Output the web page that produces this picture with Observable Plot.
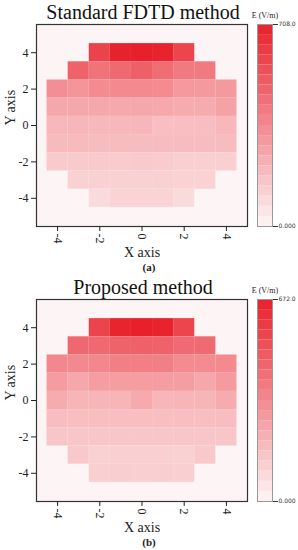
<!DOCTYPE html>
<html>
<head>
<meta charset="utf-8">
<script src="https://cdn.jsdelivr.net/npm/d3@7"></script>
<script src="https://cdn.jsdelivr.net/npm/@observablehq/plot@0.6"></script>
<style>
  html, body { margin: 0; padding: 0; background: #ffffff; }
  #root { position: relative; width: 298px; height: 550px; overflow: hidden; }
  .panel { position: absolute; left: 0; width: 298px; height: 275px; }
  .main { position: absolute; left: 0; top: 0; }
  .bar { position: absolute; left: 250px; top: 0; }
  .cap { position: absolute; left: 136px; width: 26px; text-align: center; line-height: 12px;
         font-family: "Liberation Serif", serif; font-size: 11px; font-weight: bold; color: #222; }
</style>
</head>
<body>
<div id="root"></div>
<script>
// ---- data ----
const titles = ["Standard FDTD method", "Proposed method"];
const captions = ["(a)", "(b)"];
const maxima = [708.0, 672.0];
const rowsY = [4, 3, 2, 1, 0, -1, -2, -3, -4];
const rowStartX = [-2, -3, -4, -4, -4, -4, -4, -3, -2];
const xTicks = [-4, -2, 0, 2, 4];
const yTicks = [-4, -2, 0, 2, 4];

const valuesA = [
  [592, 700, 708, 698, 585],
  [488, 432, 467, 496, 453, 411, 411],
  [340, 319, 354, 356, 355, 352, 305, 304, 306],
  [255, 256, 255, 254, 256, 253, 245, 246, 276],
  [205, 206, 204, 205, 206, 184, 183, 185, 205],
  [192, 193, 191, 190, 190, 189, 188, 188, 190],
  [142, 143, 142, 141, 142, 140, 125, 126, 127],
  [121, 121, 120, 120, 119, 116, 116],
  [85, 112, 113, 112, 86]
];
const valuesB = [
  [558, 660, 672, 662, 556],
  [444, 442, 465, 466, 463, 437, 436],
  [343, 342, 344, 370, 371, 369, 336, 335, 337],
  [282, 242, 276, 275, 276, 274, 275, 242, 283],
  [235, 202, 201, 203, 236, 200, 201, 202, 234],
  [176, 175, 175, 174, 175, 175, 174, 175, 176],
  [149, 148, 148, 147, 148, 148, 147, 148, 149],
  [141, 114, 121, 121, 121, 114, 141],
  [121, 122, 121, 122, 121]
];
const colorRange = ["#fdf5f5", "#e8202b"];
const bgColor = "#fdf5f5";
const nSteps = 20;

function buildTable(values) {
  const out = [];
  values.forEach((row, i) => {
    row.forEach((v, j) => out.push({x: rowStartX[i] + j, y: rowsY[i], v}));
  });
  return out;
}

const root = document.getElementById("root");
const serif = "'Liberation Serif', 'Times New Roman', serif";

[valuesA, valuesB].forEach((vals, k) => {
  const max = maxima[k];
  const data = buildTable(vals);
  const panel = document.createElement("div");
  panel.className = "panel";
  panel.style.top = (k * 275) + "px";
  root.appendChild(panel);

  const main = Plot.plot({
    width: 250, height: 262,
    marginTop: 24, marginBottom: 36, marginLeft: 36, marginRight: 3,
    style: {fontFamily: serif, fontSize: "12px", color: "#222", background: "transparent", overflow: "visible"},
    x: {domain: [-5, 5], label: null},
    y: {domain: [-5.55, 5.55], label: null},
    color: {type: "linear", domain: [0, max], range: colorRange, interpolate: "rgb"},
    marks: [
      Plot.frame({fill: bgColor}),
      Plot.rect(data, {x1: d => d.x - 0.5, x2: d => d.x + 0.5, y1: d => d.y - 0.5, y2: d => d.y + 0.5, fill: "v"}),
      Plot.frame({stroke: "#333", strokeWidth: 1.2}),
      Plot.axisX({ticks: xTicks, tickRotate: 90, tickSize: 5, tickPadding: 2, tickFormat: d => String(d), label: null, fontSize: 12}),
      Plot.axisY({ticks: yTicks, tickSize: 5, tickPadding: 3, tickFormat: d => String(d), label: null, fontSize: 12}),
      Plot.text([titles[k]], {frameAnchor: "top", lineAnchor: "middle", dx: 1, dy: -12, fontSize: 20, fill: "#111"}),
      Plot.text(["X axis"], {frameAnchor: "bottom", lineAnchor: "middle", dy: 26, fontSize: 14, fill: "#222"}),
      Plot.text(["Y axis"], {frameAnchor: "left", lineAnchor: "middle", dx: -26, rotate: -90, fontSize: 14, fill: "#222"})
    ]
  });
  main.classList.add("main");
  panel.appendChild(main);

  const step = max / nSteps;
  const steps = d3.range(nSteps).map(i => ({lo: i * step, hi: (i + 1) * step, mid: (i + 0.5) * step}));
  const bar = Plot.plot({
    width: 48, height: 262,
    marginTop: 24, marginBottom: 36, marginLeft: 7, marginRight: 26,
    style: {fontFamily: serif, fontSize: "7px", color: "#333", background: "transparent", overflow: "visible"},
    x: {domain: [0, 1], axis: null},
    y: {domain: [0, max], axis: null},
    color: {type: "linear", domain: [0, max], range: colorRange, interpolate: "rgb"},
    marks: [
      Plot.rect(steps, {x1: d => 0, x2: d => 1, y1: "lo", y2: "hi", fill: "mid"}),
      Plot.frame({stroke: "#999", strokeWidth: 1}),
      Plot.axisY({anchor: "right", ticks: [0, max], tickSize: 5, tickPadding: 1,
                  tickFormat: d => d === 0 ? "0.000" : d.toFixed(1), label: null,
                  fontSize: 6, fontFamily: "'DejaVu Sans', sans-serif"}),
      Plot.text(["E (V/m)"], {frameAnchor: "top", lineAnchor: "middle", dy: -9, fontSize: 8, fill: "#222"})
    ]
  });
  bar.classList.add("bar");
  panel.appendChild(bar);

  const cap = document.createElement("div");
  cap.className = "cap";
  cap.style.top = "261px";
  cap.textContent = captions[k];
  panel.appendChild(cap);
});
</script>
</body>
</html>
